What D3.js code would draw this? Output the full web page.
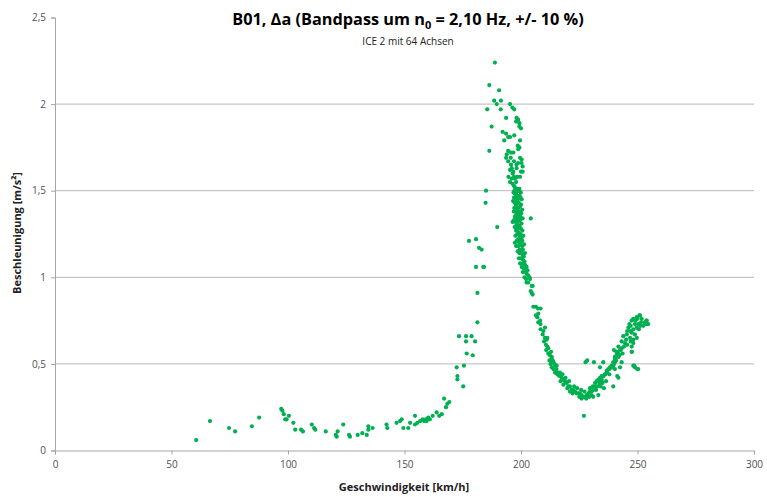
<!DOCTYPE html>
<html>
<head>
<meta charset="utf-8">
<script src="https://cdn.jsdelivr.net/npm/d3@7"></script>
<style>
  body { margin: 0; background: #fff; }
  svg { font-family: "Open Sans", "Noto Sans", sans-serif; }
</style>
</head>
<body>
<div id="chart"></div>
<script>
// measured points [speed km/h, acceleration m/s²], grouped by part of the curve
const lowSpeed = [[60.6,0.06],[66.5,0.17],[74.7,0.13],[77.3,0.11],[84.5,0.14],[87.6,0.19],[97.1,0.24],[97.6,0.23],[98.2,0.21],[98.8,0.18],[99.4,0.18],[100.4,0.20],[102.3,0.16],[103.1,0.12],[105.6,0.12],[106.4,0.11],[110.2,0.15],[111.2,0.13],[111.7,0.12],[116.2,0.11],[120.5,0.09],[120.9,0.08],[121.3,0.11],[123.7,0.15],[126.2,0.09],[126.6,0.08],[129.9,0.09],[131.9,0.10],[133.8,0.09],[134.5,0.14],[134.5,0.12],[136.3,0.13],[142.3,0.15],[142.6,0.13],[146.6,0.16],[148.1,0.17],[148.8,0.18],[149.5,0.13],[151.6,0.13],[152.4,0.16],[154.5,0.20],[154.5,0.15],[155.5,0.16],[156.7,0.17],[157.8,0.18],[158.4,0.17],[159.2,0.18],[159.5,0.17],[160.2,0.19],[160.9,0.18],[162.1,0.20],[163.8,0.22],[164.9,0.20],[166.0,0.21]];

const rise = [[167.0,0.30],[167.8,0.25],[168.4,0.27],[169.2,0.28],[172.4,0.48],[172.7,0.43],[172.7,0.41],[175.2,0.37],[175.5,0.49],[176.7,0.56],[179.3,0.55],[173.4,0.66],[176.4,0.66],[178.8,0.66],[176.4,0.63],[180.3,0.63],[181.3,0.74],[181.3,0.91],[180.7,1.06],[183.8,1.06],[184.1,1.06],[177.7,1.21],[180.7,1.22],[182.0,1.17],[183.1,1.16],[184.8,1.43],[185.0,1.50],[189.8,1.29],[204.2,1.34]];

const peak = [[188.8,2.24],[186.4,2.11],[190.6,2.08],[188.5,2.02],[191.4,2.02],[189.6,2.00],[185.5,1.97],[191.3,1.97],[195.3,2.00],[196.3,1.98],[197.1,1.97],[193.6,1.92],[198.1,1.92],[198.8,1.91],[199.3,1.89],[197.9,1.90],[187.4,1.87],[199.3,1.87],[200.0,1.86],[192.1,1.84],[193.6,1.83],[194.5,1.81],[192.8,1.79],[195.3,1.81],[197.1,1.82],[199.6,1.79],[198.6,1.76],[199.3,1.75],[198.8,1.74],[186.4,1.73],[194.5,1.73],[195.7,1.72],[193.9,1.71],[196.7,1.72],[193.6,1.69],[195.6,1.69],[199.6,1.69],[200.3,1.68],[194.5,1.67],[197.0,1.67],[198.8,1.66],[200.2,1.66],[195.7,1.65],[198.1,1.65],[200.7,1.64],[196.0,1.63],[196.7,1.61],[198.1,1.63],[200.0,1.61],[200.7,1.61],[195.3,1.62],[196.4,1.60],[197.0,1.58],[194.6,1.58],[196.0,1.57],[197.4,1.57],[198.4,1.58],[199.6,1.58],[195.3,1.55],[196.4,1.54],[197.9,1.55],[197.4,1.52],[198.4,1.51],[199.3,1.51],[196.9,1.53]];

const band = [[197.2,1.50],[198.0,1.49],[198.9,1.50],[197.6,1.48],[199.4,1.47],[198.3,1.47],[197.0,1.46],[198.7,1.45],[199.8,1.46],[197.9,1.45],[198.4,1.44],[197.3,1.43],[199.1,1.43],[198.0,1.42],[200.0,1.42],[197.8,1.41],[198.9,1.40],[197.1,1.40],[199.6,1.41],[198.2,1.39],[199.2,1.38],[197.6,1.38],[198.6,1.37],[200.1,1.37],[197.9,1.36],[199.0,1.36],[198.3,1.35],[199.7,1.35],[197.4,1.35],[198.9,1.34],[198.1,1.33],[199.5,1.33],[197.7,1.32],[196.4,1.32],[198.6,1.32],[200.2,1.31],[199.1,1.30],[198.0,1.30],[199.4,1.29],[198.5,1.28],[200.0,1.28],[197.9,1.27],[199.0,1.26],[199.8,1.25],[198.4,1.25],[199.3,1.24],[200.3,1.23],[198.8,1.22],[199.7,1.22],[198.2,1.21],[200.6,1.21],[199.2,1.20],[197.4,1.20],[199.8,1.19],[200.5,1.18],[198.9,1.18],[199.5,1.16],[200.8,1.16],[200.1,1.15],[199.3,1.14],[200.6,1.13],[201.2,1.12],[200.0,1.11],[200.9,1.10],[201.5,1.09],[201.0,1.08],[201.8,1.07],[202.4,1.06],[201.3,1.05],[202.8,1.04],[202.0,1.03],[202.5,1.02],[203.1,1.01],[203.6,1.00],[203.9,0.99],[203.1,0.97],[201.5,1.00],[202.2,0.99],
  [196.8,1.49],[199.9,1.49],[196.6,1.44],[200.3,1.45],[196.9,1.38],[200.5,1.39],[197.0,1.33],[200.7,1.34],[197.3,1.29],[200.6,1.27],[197.6,1.24],[201.0,1.24],[197.9,1.18],[201.3,1.19],[198.6,1.15],[201.7,1.14],[199.1,1.11],[199.6,1.08],[200.3,1.06],[200.8,1.03]];

const fall = [[202.4,0.97],[205.0,0.95],[204.6,0.95],[204.6,0.91],[205.0,0.90],[204.2,0.92],[205.3,0.83],[206.4,0.83],[208.4,0.82],[207.3,0.82],[206.4,0.78],[207.0,0.77],[207.4,0.79],[208.2,0.75],[207.4,0.74],[208.4,0.73],[210.3,0.71],[208.4,0.70],[209.6,0.69],[209.3,0.67],[210.3,0.65],[211.3,0.65],[211.0,0.64],[209.9,0.63],[210.7,0.61],[211.3,0.60],[211.7,0.59],[212.1,0.56],[213.2,0.54],[211.7,0.56],[212.4,0.55],[213.1,0.53],[212.2,0.52],[213.6,0.52],[213.9,0.51],[212.7,0.50],[214.6,0.49],[215.3,0.49],[213.2,0.48],[213.9,0.47],[215.0,0.46],[215.2,0.47],[214.6,0.45],[210.8,0.58],[212.9,0.57],[214.3,0.50]];

const valley = [[216.0,0.45],[216.7,0.45],[215.6,0.44],[216.4,0.43],[217.5,0.42],[218.2,0.41],[217.0,0.40],[218.9,0.40],[219.6,0.39],[218.2,0.38],[220.3,0.37],[221.0,0.37],[219.9,0.36],[221.7,0.35],[222.4,0.35],[221.0,0.34],[223.2,0.34],[223.9,0.33],[224.6,0.33],[222.2,0.33],[225.3,0.33],[226.0,0.32],[225.0,0.31],[226.7,0.31],[227.5,0.31],[226.0,0.30],[228.2,0.32],[228.9,0.33],[229.6,0.34],[229.3,0.31],[230.3,0.32],[231.0,0.31],[228.0,0.30],[227.0,0.20],[217.8,0.44],[219.1,0.42],[220.6,0.40],[222.8,0.37],[224.1,0.36],[225.8,0.35],[227.2,0.34]];

const climb = [[229.6,0.36],[230.8,0.37],[231.8,0.39],[232.5,0.40],[233.2,0.41],[233.9,0.42],[234.6,0.43],[235.3,0.43],[236.1,0.44],[236.8,0.45],[237.0,0.46],[237.9,0.47],[238.5,0.48],[238.9,0.48],[239.6,0.49],[239.9,0.50],[240.3,0.51],[240.8,0.52],[240.3,0.54],[241.0,0.55],[241.8,0.56],[241.0,0.57],[242.5,0.58],[243.2,0.59],[241.8,0.60],[243.2,0.51],[242.5,0.48],[241.8,0.42],[241.3,0.43],[231.8,0.37],[232.7,0.37],[230.3,0.34],[233.6,0.39],[234.6,0.40],[232.2,0.35],[233.2,0.32],[231.0,0.35],[233.9,0.38],[227.7,0.51],[228.4,0.52],[231.3,0.51],[233.9,0.48],[235.3,0.51],[247.6,0.57],[248.6,0.49],[249.9,0.47],[248.2,0.49],[248.9,0.48],[250.3,0.47],[247.5,0.57],
  [250.8,0.78],[249.7,0.77],[251.8,0.76],[248.2,0.76],[247.5,0.75],[253.9,0.75],[253.2,0.73],[254.2,0.73],[252.5,0.72],[248.9,0.73],[250.3,0.73],[249.7,0.71],[248.2,0.70],[247.1,0.72],[246.5,0.73],[246.1,0.71],[245.6,0.69],[247.5,0.68],[248.9,0.67],[249.7,0.65],[248.2,0.64],[246.8,0.65],[245.4,0.67],[245.1,0.64],[243.9,0.66],[243.2,0.63],[244.6,0.62],[245.6,0.61],[247.5,0.60],[248.2,0.62],[247.1,0.63],[244.2,0.60],[242.8,0.58],[243.6,0.56],[242.2,0.55],[241.0,0.57],[241.8,0.54],[239.9,0.58],[240.3,0.53],[239.6,0.51],[238.9,0.49],[238.2,0.48],[239.3,0.48],[240.3,0.47],[237.5,0.47],[236.8,0.46],[236.1,0.44],[237.9,0.44],[235.3,0.43],[234.6,0.41],[236.5,0.40],[235.0,0.39],[234.2,0.37],[235.6,0.36],[239.6,0.37],[253.2,0.74],[253.9,0.75],[254.6,0.73],[251.1,0.78],[250.0,0.76],[251.5,0.74],[249.0,0.75],[250.6,0.70],[251.2,0.72],[246.9,0.69]];

const xTicks = [0, 50, 100, 150, 200, 250, 300];
const yTicks = [0, 0.5, 1, 1.5, 2, 2.5];

const width = 767, height = 497;
const svg = d3.select("#chart").append("svg")
  .attr("width", width)
  .attr("height", height);

const x = d3.scaleLinear().domain([0, 300]).range([55, 754]);
const y = d3.scaleLinear().domain([0, 2.5]).range([450.5, 17.5]);

const fmt = d => String(d).replace(".", ",");

// gridlines
svg.append("g")
  .selectAll("line")
  .data(yTicks.filter(d => d > 0 && d < 2.5))
  .enter().append("line")
  .attr("x1", x(0)).attr("x2", x(300))
  .attr("y1", d => y(d)).attr("y2", d => y(d))
  .attr("stroke", "#b8b8b8")
  .attr("stroke-width", 1);

// axes
const yAxis = svg.append("g")
  .attr("transform", `translate(${x(0)},0)`)
  .call(d3.axisLeft(y).tickValues(yTicks).tickFormat(fmt).tickSize(4).tickPadding(5));
const xAxis = svg.append("g")
  .attr("transform", `translate(0,${y(0)})`)
  .call(d3.axisBottom(x).tickValues(xTicks).tickFormat(fmt).tickSize(4).tickPadding(6));

[xAxis, yAxis].forEach(a => {
  a.select(".domain").attr("stroke", "#a6a6a6");
  a.selectAll(".tick line").attr("stroke", "#a6a6a6");
  a.selectAll(".tick text")
    .style("font-family", "'Open Sans', sans-serif")
    .style("font-size", "10px")
    .attr("fill", "#505050");
});

// points
const allPoints = [].concat(lowSpeed, rise, peak, band, fall, valley, climb);
svg.append("g")
  .selectAll("circle")
  .data(allPoints)
  .enter().append("circle")
  .attr("cx", d => x(d[0]))
  .attr("cy", d => y(d[1]))
  .attr("r", 2.1)
  .attr("fill", "#00b050");

// titles
const title = svg.append("text")
  .attr("x", 408)
  .attr("y", 25)
  .attr("text-anchor", "middle")
  .style("font-size", "16.3px")
  .style("font-weight", "bold")
  .attr("fill", "#000");
title.append("tspan").text("B01, \u2206a (Bandpass um n");
title.append("tspan").attr("dy", 4).style("font-size", "11px").text("0");
title.append("tspan").attr("dy", -4).text(" = 2,10 Hz, +/- 10 %)");

svg.append("text")
  .attr("x", 408)
  .attr("y", 45)
  .attr("text-anchor", "middle")
  .style("font-size", "10px")
  .attr("fill", "#222")
  .text("ICE 2 mit 64 Achsen");

svg.append("text")
  .attr("x", 404)
  .attr("y", 491)
  .attr("text-anchor", "middle")
  .style("font-size", "11px")
  .style("font-weight", "bold")
  .attr("fill", "#222")
  .text("Geschwindigkeit [km/h]");

svg.append("text")
  .attr("transform", "translate(21,233) rotate(-90)")
  .attr("text-anchor", "middle")
  .style("font-size", "11px")
  .style("font-weight", "bold")
  .attr("fill", "#222")
  .text("Beschleunigung [m/s\u00b2]");
</script>
</body>
</html>
